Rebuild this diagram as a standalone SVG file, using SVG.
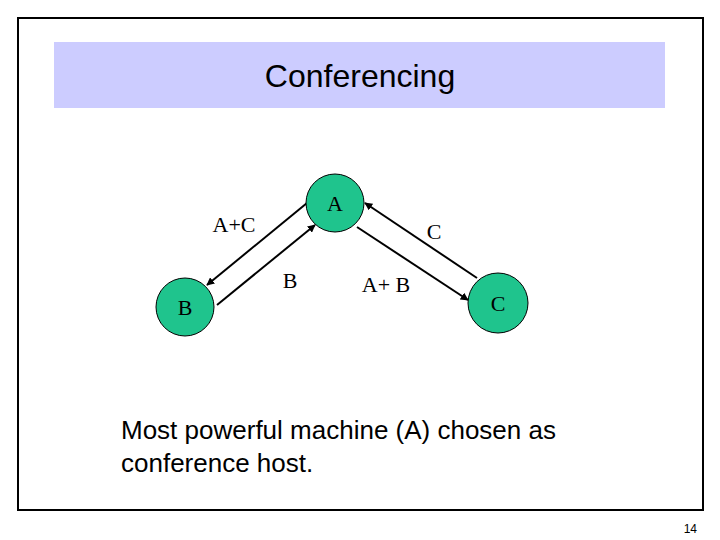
<svg xmlns="http://www.w3.org/2000/svg" width="720" height="540" viewBox="0 0 720 540">
<defs>
<style>
.n{fill:#1fc48d;stroke:#000;stroke-width:1}
.t{font-family:"Liberation Serif",serif;font-size:22px;fill:#000}
.c line{stroke:#000;stroke-width:2;marker-end:url(#ah)}
.s{font-family:"Liberation Sans",sans-serif;fill:#000}
</style>
<marker id="ah" viewBox="0 0 10 10" refX="9" refY="5" markerWidth="4" markerHeight="4" orient="auto"><path d="M0,0L10,5L0,10z" fill="#000"/></marker>
</defs>
<rect width="720" height="540" fill="#fff"/>
<rect x="18" y="18" width="685" height="492" fill="none" stroke="#000" stroke-width="2"/>
<rect x="54" y="42" width="611" height="66" fill="#ccccff"/>
<text class="s" x="360" y="87" font-size="32" text-anchor="middle">Conferencing</text>
<g class="c">
<line x1="307" y1="203" x2="207" y2="285"/>
<line x1="217" y1="305" x2="315" y2="225"/>
<line x1="357" y1="227" x2="468" y2="300"/>
<line x1="477" y1="278" x2="365" y2="203"/>
</g>
<g id="A"><circle class="n" cx="335" cy="203" r="29"/><text class="t" x="335" y="211" text-anchor="middle">A</text></g>
<g id="B"><circle class="n" cx="185" cy="307" r="29"/><text class="t" x="185" y="315" text-anchor="middle">B</text></g>
<g id="C"><circle class="n" cx="498" cy="303" r="30"/><text class="t" x="498" y="311" text-anchor="middle">C</text></g>
<text class="t" x="234" y="232" text-anchor="middle">A+C</text>
<text class="t" x="434" y="239" text-anchor="middle">C</text>
<text class="t" x="290" y="288" text-anchor="middle">B</text>
<text class="t" x="386" y="292" text-anchor="middle">A+ B</text>
<text class="s" x="121" y="439" font-size="26">Most powerful machine (A) chosen as</text>
<text class="s" x="121" y="472" font-size="26">conference host.</text>
<text class="s" x="697" y="533" font-size="12" text-anchor="end">14</text>
</svg>
